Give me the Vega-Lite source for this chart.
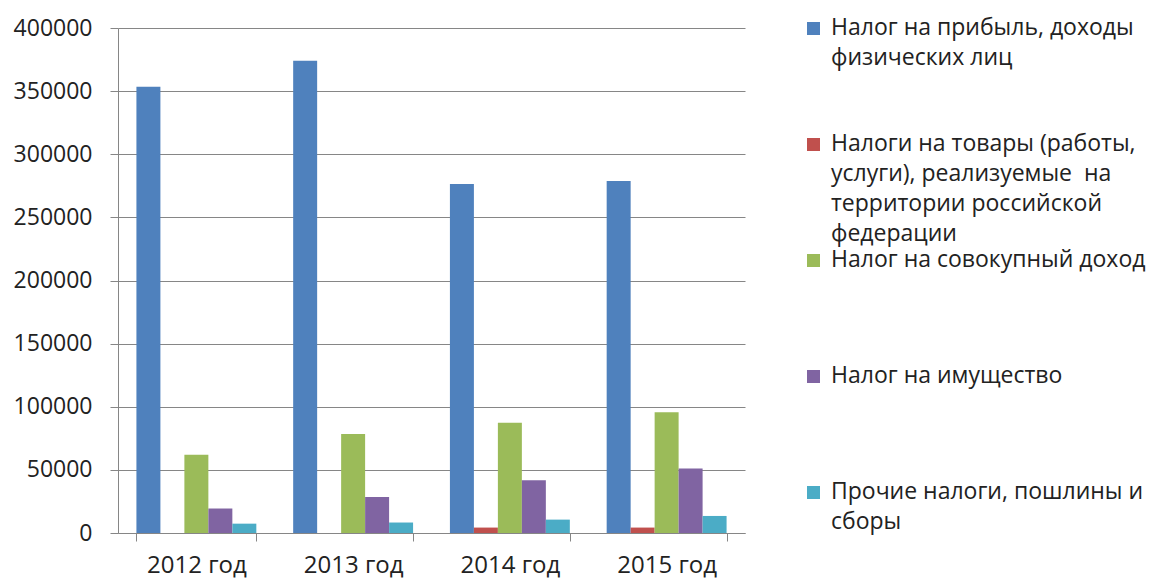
{
  "$schema": "https://vega.github.io/schema/vega-lite/v6.json",
  "width": 627,
  "height": 505,
  "autosize": {"type": "none"},
  "padding": {"left": 118, "top": 28, "right": 406, "bottom": 46},
  "background": "white",
  "data": {
    "values": [
      {"year": "2012 год", "series": "Налог на прибыль, доходы|физических лиц", "value": 353500},
      {"year": "2012 год", "series": "Налоги на товары (работы,|услуги), реализуемые\u00a0 на|территории российской|федерации", "value": 0},
      {"year": "2012 год", "series": "Налог на совокупный доход", "value": 62000},
      {"year": "2012 год", "series": "Налог на имущество", "value": 19400},
      {"year": "2012 год", "series": "Прочие налоги, пошлины и|сборы", "value": 7400},
      {"year": "2013 год", "series": "Налог на прибыль, доходы|физических лиц", "value": 374000},
      {"year": "2013 год", "series": "Налоги на товары (работы,|услуги), реализуемые\u00a0 на|территории российской|федерации", "value": 0},
      {"year": "2013 год", "series": "Налог на совокупный доход", "value": 78400},
      {"year": "2013 год", "series": "Налог на имущество", "value": 28500},
      {"year": "2013 год", "series": "Прочие налоги, пошлины и|сборы", "value": 8300},
      {"year": "2014 год", "series": "Налог на прибыль, доходы|физических лиц", "value": 276500},
      {"year": "2014 год", "series": "Налоги на товары (работы,|услуги), реализуемые\u00a0 на|территории российской|федерации", "value": 4300},
      {"year": "2014 год", "series": "Налог на совокупный доход", "value": 87400},
      {"year": "2014 год", "series": "Налог на имущество", "value": 41700},
      {"year": "2014 год", "series": "Прочие налоги, пошлины и|сборы", "value": 10600},
      {"year": "2015 год", "series": "Налог на прибыль, доходы|физических лиц", "value": 278800},
      {"year": "2015 год", "series": "Налоги на товары (работы,|услуги), реализуемые\u00a0 на|территории российской|федерации", "value": 4300},
      {"year": "2015 год", "series": "Налог на совокупный доход", "value": 95600},
      {"year": "2015 год", "series": "Налог на имущество", "value": 51000},
      {"year": "2015 год", "series": "Прочие налоги, пошлины и|сборы", "value": 13500}
    ]
  },
  "mark": {"type": "bar"},
  "encoding": {
    "x": {
      "field": "year",
      "type": "nominal",
      "sort": ["2012 год", "2013 год", "2014 год", "2015 год"],
      "scale": {"paddingInner": 0.235, "paddingOuter": 0.1175},
      "axis": {
        "title": null,
        "labelAngle": 0,
        "tickBand": "extent",
        "grid": false,
        "domainColor": "#868686",
        "tickColor": "#868686",
        "tickSize": 8,
        "labelFontSize": 24,
        "labelPadding": 12,
        "labelColor": "#222222"
      }
    },
    "xOffset": {
      "field": "series",
      "type": "nominal",
      "sort": [
        "Налог на прибыль, доходы|физических лиц",
        "Налоги на товары (работы,|услуги), реализуемые\u00a0 на|территории российской|федерации",
        "Налог на совокупный доход",
        "Налог на имущество",
        "Прочие налоги, пошлины и|сборы"
      ],
      "scale": {"paddingInner": 0, "paddingOuter": 0}
    },
    "y": {
      "field": "value",
      "type": "quantitative",
      "scale": {"domain": [0, 400000], "nice": false},
      "axis": {
        "title": null,
        "values": [0, 50000, 100000, 150000, 200000, 250000, 300000, 350000, 400000],
        "format": "d",
        "gridColor": "#868686",
        "domainColor": "#868686",
        "tickColor": "#868686",
        "tickSize": 8,
        "labelFontSize": 23,
        "labelPadding": 18,
        "labelColor": "#222222"
      }
    },
    "color": {
      "field": "series",
      "type": "nominal",
      "scale": {
        "domain": [
          "Налог на прибыль, доходы|физических лиц",
          "Налоги на товары (работы,|услуги), реализуемые\u00a0 на|территории российской|федерации",
          "Налог на совокупный доход",
          "Налог на имущество",
          "Прочие налоги, пошлины и|сборы"
        ],
        "range": ["#4F81BD", "#C0504D", "#9BBB59", "#8064A2", "#4BACC6"]
      },
      "legend": {
        "title": null,
        "orient": "none",
        "legendX": 684,
        "legendY": -11,
        "symbolType": "square",
        "symbolSize": 169,
        "symbolStrokeWidth": 0,
        "symbolOpacity": 1,
        "labelFontSize": 23,
        "labelLimit": 400,
        "labelOffset": 6,
        "labelColor": "#222222",
        "labelBaseline": "alphabetic",
        "labelExpr": "split(datum.label, '|')",
        "gridAlign": "all",
        "rowPadding": 3,
        "padding": 0,
        "encode": {
          "labels": {"update": {"dy": {"value": 6.5}, "lineHeight": {"value": 30}}}
        }
      }
    }
  },
  "config": {
    "view": {"stroke": null},
    "font": "Open Sans"
  }
}
